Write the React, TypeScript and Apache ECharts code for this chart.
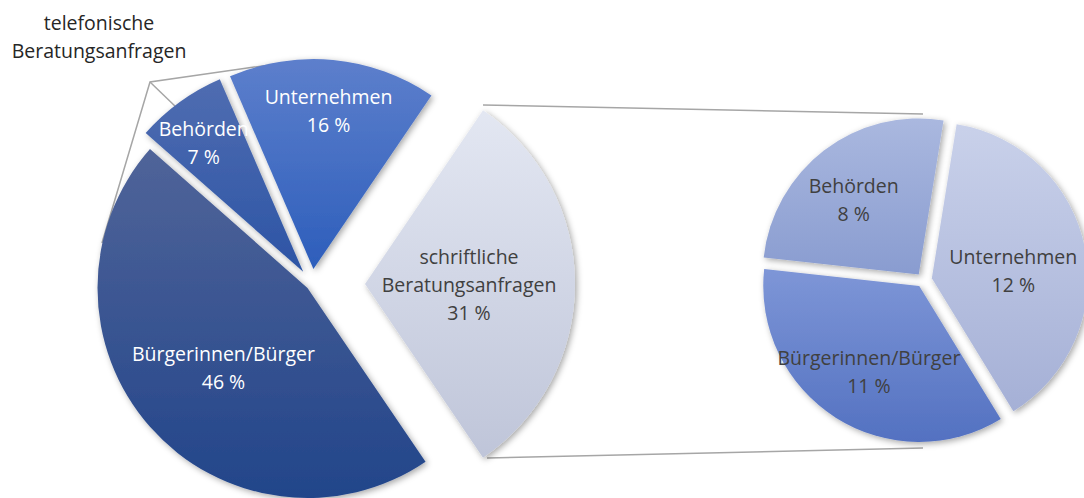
import React, { useEffect, useRef } from "react";
import * as echarts from "echarts";

const leftNames = ["schriftliche Beratungsanfragen", "Unternehmen", "Behörden", "Bürgerinnen/Bürger"];
const leftValues = [31, 16, 7, 46];
const rightNames = ["Unternehmen", "Behörden", "Bürgerinnen/Bürger"];
const rightValues = [12, 8, 11];
const phoneLabel = "telefonische\nBeratungsanfragen";

const FONT = "'Open Sans'";
const FSIZE = 19.5;

const leftColors = [
  ["#e3e7f2", "#bfc5d9"],
  ["#5d7fcc", "#2d5ebb"],
  ["#506db1", "#2c54a5"],
  ["#506499", "#22458a"],
];
const leftText = ["#404040", "#ffffff", "#ffffff", "#ffffff"];
const leftOffsets = [53, 15, 15, 6];
const leftLabelShift = [
  [-4, 0],
  [5, -51],
  [-36, -42],
  [-3, 8],
];

const rightColors = [
  ["#c9d1ea", "#a5b0d6"],
  ["#aab8df", "#899cd0"],
  ["#7e96d7", "#5371c1"],
];
const rightOffsets = [9, 7, 7];
const rightLabelShift = [
  [2, 8],
  [-16, -11],
  [-7, 17],
];

function grad(c: string[]) {
  return new echarts.graphic.LinearGradient(0, 0, 0, 1, [
    { offset: 0, color: c[0] },
    { offset: 1, color: c[1] },
  ]);
}

function fmt(p: any) {
  const n = String(p.name).replace("schriftliche ", "schriftliche\n");
  return n + "\n" + p.value + " %";
}

function makeSeries(
  names: string[],
  values: number[],
  idx: number,
  center: number[],
  radius: number,
  startAngle: number,
  colors: string[][],
  textColors: string[],
  offsets: number[],
  shifts: number[][]
) {
  return {
    type: "pie",
    center,
    radius,
    startAngle,
    clockwise: false,
    selectedMode: "single",
    selectedOffset: offsets[idx],
    avoidLabelOverlap: false,
    emphasis: { disabled: true },
    labelLine: { show: false },
    labelLayout: { dx: shifts[idx][0], dy: shifts[idx][1] },
    z: idx,
    data: names.map((n, i) => ({
      name: n,
      value: values[i],
      selected: i === idx,
      itemStyle:
        i === idx
          ? {
              color: grad(colors[i]),
              shadowBlur: 6,
              shadowOffsetX: 2,
              shadowOffsetY: 2,
              shadowColor: "rgba(0,0,0,0.35)",
            }
          : { color: "rgba(0,0,0,0)" },
      select: {
        itemStyle:
          i === idx
            ? { color: grad(colors[i]) }
            : { color: "rgba(0,0,0,0)" },
      },
      label:
        i === idx
          ? {
              show: true,
              position: "inside",
              formatter: fmt,
              color: textColors[i],
              fontFamily: FONT,
              fontSize: FSIZE,
              lineHeight: 28,
              textBorderWidth: 0,
            }
          : { show: false },
    })),
  };
}

export default function App() {
  const ref = useRef<HTMLDivElement>(null);
  useEffect(() => {
    if (!ref.current) return;
    const chart = echarts.init(ref.current, undefined, { renderer: "svg" });
    const series: any[] = [];
    for (let i = 0; i < leftNames.length; i++) {
      series.push(
        makeSeries(leftNames, leftValues, i, [312, 284], 210, 360 - (leftValues[0] / 100) * 180, leftColors, leftText, leftOffsets, leftLabelShift)
      );
    }
    const rStart = 360 - 58.5;
    for (let i = 0; i < rightNames.length; i++) {
      series.push(
        makeSeries(rightNames, rightValues, i, [923, 280], 156, rStart, rightColors, ["#404040", "#404040", "#404040"], rightOffsets, rightLabelShift)
      );
    }
    const lineStyle = { stroke: "#a6a6a6", lineWidth: 1.5 };
    chart.setOption({
      animation: false,
      backgroundColor: "#ffffff",
      series,
      graphic: [
        { type: "line", shape: { x1: 483, y1: 105, x2: 923, y2: 114 }, style: lineStyle, z: -1 },
        { type: "line", shape: { x1: 487, y1: 458, x2: 923, y2: 448 }, style: lineStyle, z: -1 },
        { type: "polyline", shape: { points: [[102, 243], [150, 82], [297, 61]] }, style: { ...lineStyle, fill: null } },
        { type: "line", shape: { x1: 150, y1: 82, x2: 177, y2: 108 }, style: lineStyle },
        {
          type: "text",
          x: 99,
          y: 8,
          style: {
            text: phoneLabel,
            fill: "#262626",
            font: `${FSIZE}px ${FONT}`,
            lineHeight: 28,
            align: "center",
            verticalAlign: "top",
          },
        },
      ],
    });
    return () => chart.dispose();
  }, []);
  return (
    <div
      ref={ref}
      style={{ position: "absolute", left: 0, top: 0, width: 1084, height: 498 }}
    />
  );
}
